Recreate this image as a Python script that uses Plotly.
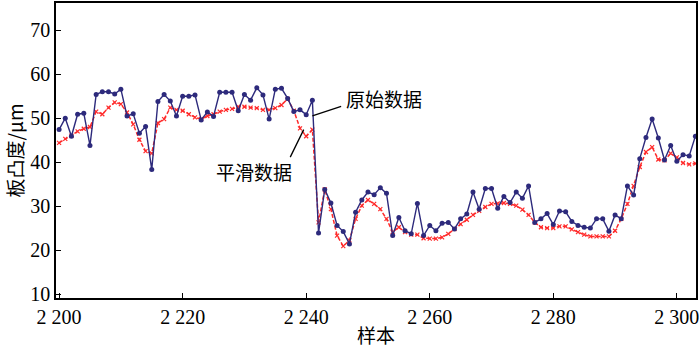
import plotly.graph_objects as go

samples = list(range(2200, 2304))

raw_data = [
    47.4, 50.0, 45.9, 50.9, 51.1, 43.8, 55.4, 56.0, 56.0, 55.5,
    56.6, 50.5, 51.0, 46.6, 48.1, 38.3, 53.8, 55.4, 53.9, 50.5,
    55.0, 55.0, 55.3, 49.6, 51.4, 50.4, 55.9, 55.9, 55.9, 51.7,
    55.4, 54.1, 56.9, 55.3, 49.8, 56.6, 56.8, 54.5, 51.5, 51.9,
    50.8, 54.1, 23.9, 33.8, 30.7, 25.6, 24.2, 21.4, 28.6, 31.4,
    33.2, 32.6, 34.2, 32.9, 23.3, 27.4, 24.4, 23.7, 30.6, 23.3,
    25.6, 24.4, 26.1, 26.3, 24.8, 27.1, 28.2, 33.2, 29.3, 34.0,
    34.0, 29.5, 32.2, 30.8, 33.2, 31.8, 34.6, 26.3, 27.1, 28.3,
    25.8, 28.9, 28.7, 26.5, 25.6, 25.2, 25.0, 27.1, 27.1, 24.3,
    28.0, 27.1, 34.6, 32.5, 40.8, 45.6, 49.8, 45.5, 40.5, 43.8,
    40.2, 41.7, 41.4, 45.9,
]

smooth_data = [
    44.4, 45.3, 46.0, 47.0, 47.6, 48.0, 51.5, 50.9, 52.4, 53.6,
    53.2, 51.3, 48.6, 45.1, 42.5, 42.0, 48.9, 49.8, 52.4, 51.9,
    51.7, 50.9, 50.2, 49.8, 50.5, 50.9, 51.5, 51.9, 52.1, 52.6,
    52.6, 52.4, 52.3, 51.9, 51.9, 52.3, 53.0, 54.4, 51.7, 47.7,
    45.9, 47.4, 26.3, 33.8, 29.3, 23.3, 20.9, 22.2, 27.1, 30.1,
    31.4, 30.5, 29.3, 27.1, 24.1, 25.2, 24.1, 23.5, 23.5, 22.7,
    22.6, 22.6, 22.9, 23.7, 24.8, 25.9, 26.9, 28.0, 28.9, 29.8,
    30.5, 30.6, 30.7, 30.5, 30.1, 29.2, 28.0, 26.3, 25.2, 25.0,
    25.0, 25.4, 25.4, 24.7, 24.1, 23.5, 23.1, 23.1, 23.1, 23.1,
    24.4, 27.1, 30.5, 34.6, 38.9, 42.3, 43.4, 40.6, 40.4, 42.0,
    41.1, 39.8, 39.5, 39.7,
]

x_tickvals = [2200, 2220, 2240, 2260, 2280, 2300]
x_ticktext = ["2 200", "2 220", "2 240", "2 260", "2 280", "2 300"]
y_tickvals = [10, 20, 30, 40, 50, 60, 70]

SERIF = "'Liberation Serif', 'DejaVu Serif', serif"
CJK = "'Noto Sans CJK SC', sans-serif"

fig = go.Figure()
fig.add_trace(go.Scatter(
    x=samples, y=smooth_data, mode="lines+markers", name="平滑数据",
    line=dict(color="#FF2A2A", width=1.5, dash="4px,2px"),
    marker=dict(symbol="x-thin", size=4, line=dict(color="#FF2A2A", width=1.2)),
))
fig.add_trace(go.Scatter(
    x=samples, y=raw_data, mode="lines+markers", name="原始数据",
    line=dict(color="#2D2A7C", width=1.4),
    marker=dict(symbol="circle", size=5, color="#2D2A7C"),
))

fig.add_annotation(x=2241, y=50.5, ax=2245.9, ay=52.8, xref="x", yref="y",
                   axref="x", ayref="y", text="", showarrow=True,
                   arrowhead=0, arrowwidth=1.3, arrowcolor="black")
fig.add_annotation(x=2246.2, y=54.5, xref="x", yref="y", text="原始数据",
                   showarrow=False, xanchor="left", yanchor="middle",
                   font=dict(family=CJK, size=19, color="black"))
fig.add_annotation(x=2239.6, y=47.4, ax=2237.3, ay=40.8, xref="x", yref="y",
                   axref="x", ayref="y", text="", showarrow=True,
                   arrowhead=0, arrowwidth=1.3, arrowcolor="black")
fig.add_annotation(x=2231.6, y=37.8, xref="x", yref="y", text="平滑数据",
                   showarrow=False, xanchor="center", yanchor="middle",
                   font=dict(family=CJK, size=19, color="black"))

fig.update_layout(
    width=700, height=348,
    margin=dict(l=56, r=4, t=1, b=50),
    paper_bgcolor="white", plot_bgcolor="white",
    showlegend=False,
    font=dict(family=SERIF, size=17, color="black"),
)
fig.update_xaxes(
    range=[2199.5, 2303.1], tickvals=x_tickvals, ticktext=x_ticktext,
    ticks="inside", ticklen=5, tickwidth=1.3, tickcolor="black",
    showline=True, linecolor="black", linewidth=1.6, mirror=True,
    showgrid=False, zeroline=False,
    title=dict(text="样本", font=dict(family=CJK, size=19), standoff=4),
    tickfont=dict(family=SERIF, size=20),
)
fig.update_yaxes(
    range=[9.1, 76.2], tickvals=y_tickvals,
    ticks="inside", ticklen=5, tickwidth=1.3, tickcolor="black",
    showline=True, linecolor="black", linewidth=1.6, mirror=True,
    showgrid=False, zeroline=False,
    title=dict(text="板凸度/μm", font=dict(family=CJK, size=19), standoff=2),
    tickfont=dict(family=SERIF, size=20),
)

fig.write_html("out.html")
